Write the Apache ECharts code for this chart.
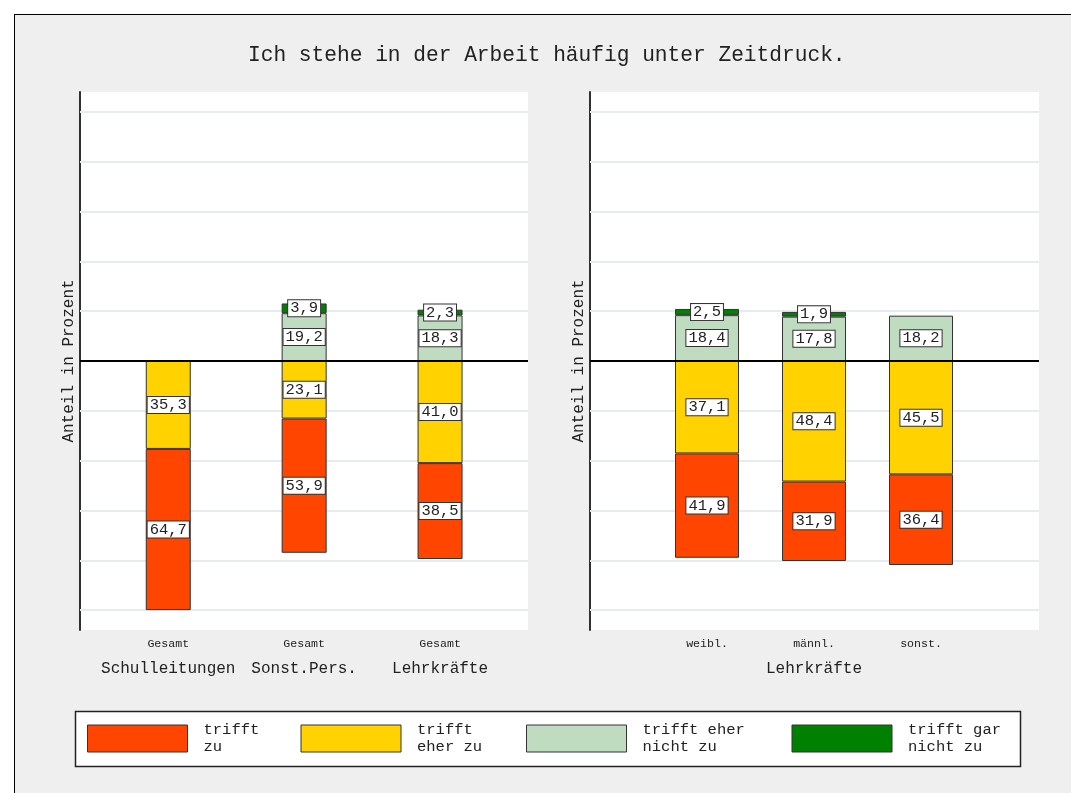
<!DOCTYPE html>
<html>
<head>
<meta charset="utf-8">
<script src="https://cdn.jsdelivr.net/npm/echarts@6/dist/echarts.min.js"></script>
<style>
html,body{margin:0;padding:0;background:#fff;width:1071px;height:793px;overflow:hidden;}
#frame{position:absolute;left:14px;top:14px;width:1100px;height:900px;background:#efefef;border-left:1.5px solid #000;border-top:1.5px solid #000;}
#chart{position:absolute;left:0;top:0;width:1071px;height:793px;}
</style>
</head>
<body>
<div id="frame"></div>
<div id="chart"></div>
<script>
const titleText = 'Ich stehe in der Arbeit häufig unter Zeitdruck.';
const yName = 'Anteil in Prozent';
const leftCats = ['Schulleitungen', 'Sonst.Pers.', 'Lehrkräfte'];
const leftSub = ['Gesamt', 'Gesamt', 'Gesamt'];
const rightCats = ['weibl.', 'männl.', 'sonst.'];
const rightGroup = 'Lehrkräfte';
const seriesNames = ['trifft zu', 'trifft eher zu', 'trifft eher nicht zu', 'trifft gar nicht zu'];
const legendText = ['trifft\nzu', 'trifft\neher zu', 'trifft eher\nnicht zu', 'trifft gar\nnicht zu'];
const colors = ['#FF4500', '#FFD200', '#C0DCC0', '#008000'];
// left panel (Gesamt)
const leftZu = [64.7, 53.9, 38.5];
const leftEherZu = [35.3, 23.1, 41.0];
const leftEherNicht = [null, 19.2, 18.3];
const leftGarNicht = [null, 3.9, 2.3];
// right panel (Lehrkräfte by gender)
const rightZu = [41.9, 31.9, 36.4];
const rightEherZu = [37.1, 48.4, 45.5];
const rightEherNicht = [18.4, 17.8, 18.2];
const rightGarNicht = [2.5, 1.9, null];
const gridTicks = [-100, -80, -60, -40, -20, 20, 40, 60, 80, 100];
const yMin = -108, yMax = 108;

const FONT = '"Liberation Mono", "Courier New", monospace';
const TXT = '#222';

function fmt(v) { return Math.abs(v).toFixed(1).replace('.', ','); }

function bar(nameIdx, data, sign, axisIdx, barWidth, stack) {
  return {
    name: seriesNames[nameIdx], type: 'bar', xAxisIndex: axisIdx, yAxisIndex: axisIdx,
    stack: stack, barWidth: barWidth, z: 3,
    data: data.map(v => v == null ? '-' : sign * v),
    itemStyle: { color: colors[nameIdx], borderColor: '#333', borderWidth: 1 },
    label: {
      show: true, position: 'inside', formatter: p => fmt(p.value),
      fontFamily: FONT, fontSize: 15.5, lineHeight: 15, color: TXT,
      backgroundColor: '#fff', borderColor: '#333', borderWidth: 1,
      padding: [1, 2, 0, 2], textBorderWidth: 0
    },
    emphasis: { disabled: true }
  };
}

function gridHelper(axisIdx) {
  return [{
    type: 'line', xAxisIndex: axisIdx, yAxisIndex: axisIdx, data: [], z: 1, silent: true,
    markLine: {
      z: 1, silent: true, symbol: ['none', 'none'], label: { show: false }, animation: false,
      lineStyle: { color: '#e4ecef', width: 2, type: 'solid' },
      data: gridTicks.map(t => ({ yAxis: t }))
    }
  }, {
    type: 'line', xAxisIndex: axisIdx, yAxisIndex: axisIdx, data: [], z: 6, silent: true,
    markLine: {
      z: 6, silent: true, symbol: ['none', 'none'], label: { show: false }, animation: false,
      lineStyle: { color: '#000', width: 2, type: 'solid' },
      data: [{ yAxis: 0 }]
    }
  }];
}

const outerY = {
  type: 'value', min: yMin, max: yMax,
  axisLine: { show: true, onZero: false, lineStyle: { color: '#303030', width: 2 } },
  axisTick: { show: false }, axisLabel: { show: false }, splitLine: { show: false },
  name: yName, nameLocation: 'middle', nameRotate: 90, nameGap: 3,
  nameTextStyle: { fontFamily: FONT, fontSize: 16, color: TXT }
};
const hiddenY = { type: 'value', min: yMin, max: yMax, show: false };
const outerX = { type: 'value', min: 0, max: 1, show: false };
const catAxisBase = {
  type: 'category', position: 'bottom',
  axisLine: { show: false, onZero: false }, axisTick: { show: false }, splitLine: { show: false }
};

const option = {
  backgroundColor: 'transparent',
  animation: false,
  textStyle: { fontFamily: FONT },
  title: {
    text: titleText, left: 248, top: 45, padding: 0,
    textStyle: { fontFamily: FONT, fontSize: 21.2, fontWeight: 'normal', color: TXT }
  },
  grid: [
    { left: 80, top: 92, width: 448, height: 538, show: true, backgroundColor: '#fff', borderWidth: 0 },
    { left: 100.3, top: 92, width: 407.7, height: 538 },
    { left: 590, top: 92, width: 449, height: 538, show: true, backgroundColor: '#fff', borderWidth: 0 },
    { left: 653.5, top: 92, width: 321, height: 538 }
  ],
  xAxis: [
    Object.assign({ gridIndex: 0 }, outerX),
    Object.assign({ gridIndex: 1, data: leftCats }, catAxisBase, {
      axisLabel: { interval: 0, margin: 8, formatter: (v, i) => leftSub[i], fontFamily: FONT, fontSize: 11.6, color: TXT }
    }),
    Object.assign({ gridIndex: 2 }, outerX),
    Object.assign({ gridIndex: 3, data: rightCats }, catAxisBase, {
      axisLabel: { interval: 0, margin: 8, fontFamily: FONT, fontSize: 11.6, color: TXT },
      name: rightGroup, nameLocation: 'middle', nameGap: 31,
      nameTextStyle: { fontFamily: FONT, fontSize: 16, color: TXT }
    }),
    Object.assign({ gridIndex: 1, data: leftCats, offset: 23 }, catAxisBase, {
      axisLabel: { interval: 0, hideOverlap: false, margin: 8, fontFamily: FONT, fontSize: 16, color: TXT }
    })
  ],
  yAxis: [
    Object.assign({ gridIndex: 0 }, outerY),
    Object.assign({ gridIndex: 1 }, hiddenY),
    Object.assign({ gridIndex: 2 }, outerY),
    Object.assign({ gridIndex: 3 }, hiddenY)
  ],
  legend: {
    left: 87, top: 722, padding: 0, itemWidth: 100, itemHeight: 27, itemGap: 10,
    icon: 'rect', selectedMode: false,
    itemStyle: { borderWidth: 1, borderColor: '#333' },
    formatter: name => legendText[seriesNames.indexOf(name)],
    textStyle: { fontFamily: FONT, fontSize: 15.5, lineHeight: 16.5, color: TXT, padding: [0, 0, 0, 11] },
    data: [
      { name: seriesNames[0], textStyle: { width: 87 } },
      { name: seriesNames[1], textStyle: { width: 99 } },
      { name: seriesNames[2], textStyle: { width: 139 } },
      { name: seriesNames[3], textStyle: { width: 94 } }
    ]
  },
  graphic: [{
    type: 'rect', z: -1, silent: true,
    shape: { x: 75.5, y: 711.5, width: 945, height: 55 },
    style: { fill: '#fff', stroke: '#222', lineWidth: 1.5 }
  }],
  series: [].concat(
    gridHelper(0),
    gridHelper(2),
    [
      bar(1, leftEherZu, -1, 1, 45, 'L'),
      bar(0, leftZu, -1, 1, 45, 'L'),
      bar(2, leftEherNicht, 1, 1, 45, 'L'),
      bar(3, leftGarNicht, 1, 1, 45, 'L'),
      bar(1, rightEherZu, -1, 3, 64, 'R'),
      bar(0, rightZu, -1, 3, 64, 'R'),
      bar(2, rightEherNicht, 1, 3, 64, 'R'),
      bar(3, rightGarNicht, 1, 3, 64, 'R')
    ]
  )
};

const chart = echarts.init(document.getElementById('chart'), null, { renderer: 'canvas' });
chart.setOption(option);
</script>
</body>
</html>
